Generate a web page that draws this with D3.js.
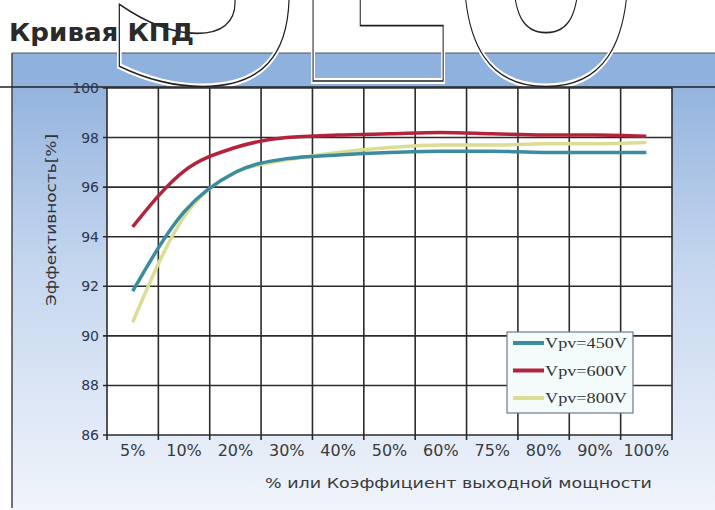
<!DOCTYPE html>
<html>
<head>
<meta charset="utf-8">
<script src="https://cdn.jsdelivr.net/npm/d3@7"></script>
<style>
  body { margin: 0; background: #fff; }
  svg { display: block; font-family: Arial, "Liberation Sans", sans-serif; }
</style>
</head>
<body>
<svg id="chart"></svg>
<script>
const loads = ["5%", "10%", "20%", "30%", "40%", "50%", "60%", "75%", "80%", "90%", "100%"];
const v450 = [91.8, 95.0, 96.6, 97.15, 97.3, 97.4, 97.45, 97.45, 97.4, 97.4, 97.4];
const v600 = [94.4, 96.65, 97.6, 98.0, 98.1, 98.15, 98.2, 98.15, 98.1, 98.1, 98.05];
const v800 = [90.55, 94.8, 96.6, 97.1, 97.4, 97.6, 97.7, 97.7, 97.75, 97.75, 97.8];
const yTicks = [86, 88, 90, 92, 94, 96, 98, 100];
const seriesNames = ["Vpv=450V", "Vpv=600V", "Vpv=800V"];

const width = 715, height = 510;
const margin = { left: 107, right: 43, top: 88, bottom: 75 };

const svg = d3.select("#chart")
    .attr("width", width)
    .attr("height", height)
    .attr("viewBox", [0, 0, width, height]);

// background panel
const defs = svg.append("defs");
const grad = defs.append("linearGradient")
    .attr("id", "bg").attr("x1", 0).attr("y1", 0).attr("x2", 0).attr("y2", 1);
grad.append("stop").attr("offset", "0%").attr("stop-color", "#8aaddb");
grad.append("stop").attr("offset", "45%").attr("stop-color", "#c3d5ee");
grad.append("stop").attr("offset", "100%").attr("stop-color", "#f0f4fb");

svg.append("rect")
    .attr("x", 12).attr("y", 53)
    .attr("width", width - 12).attr("height", height - 53)
    .attr("fill", "url(#bg)");

svg.append("rect")
    .attr("x", 12).attr("y", 53)
    .attr("width", width - 12).attr("height", 34)
    .attr("fill", "#8fb1dd");

svg.append("line")
    .attr("x1", 12).attr("x2", width).attr("y1", 53).attr("y2", 53)
    .attr("stroke", "#555").attr("stroke-width", 1);

svg.append("line")
    .attr("x1", 12).attr("x2", 12).attr("y1", 53).attr("y2", 508)
    .attr("stroke", "#444").attr("stroke-width", 1.5);

// watermark letters (outline only)
const wm = svg.append("g")
    .attr("font-family", "'DejaVu Sans', sans-serif")
    .attr("font-weight", "bold")
    .attr("font-size", 390)
    .attr("fill", "none");
[["S", 96, 215], ["L", 290, 160], ["U", 440, 212]].forEach(([ch, x, w]) => {
    wm.append("text").attr("x", x).attr("y", 81).text(ch)
        .attr("textLength", w).attr("lengthAdjust", "spacingAndGlyphs")
        .attr("stroke", "#fff").attr("stroke-width", 6);
    wm.append("text").attr("x", x).attr("y", 81).text(ch)
        .attr("textLength", w).attr("lengthAdjust", "spacingAndGlyphs")
        .attr("stroke", "#222").attr("stroke-width", 1.6);
});

svg.append("text")
    .attr("x", 9).attr("y", 41)
    .attr("font-family", "'DejaVu Sans', sans-serif")
    .attr("font-size", 24).attr("font-weight", "bold")
    .attr("fill", "#2a2a2a")
    .attr("textLength", 185).attr("lengthAdjust", "spacingAndGlyphs")
    .text("Кривая КПД");

const x = d3.scaleBand(loads, [margin.left, width - margin.right]).padding(0);
const y = d3.scaleLinear([86, 100], [height - margin.bottom, margin.top]);

// plot area
svg.append("rect")
    .attr("x", margin.left).attr("y", margin.top)
    .attr("width", width - margin.right - margin.left)
    .attr("height", height - margin.bottom - margin.top)
    .attr("fill", "#fff");

svg.append("line")
    .attr("x1", 0).attr("x2", width).attr("y1", margin.top - 1).attr("y2", margin.top - 1)
    .attr("stroke", "#222").attr("stroke-width", 1.5);

// grid
const edges = loads.map(d => x(d)).concat([x.range()[1]]);
svg.append("g")
    .selectAll("line")
    .data(edges)
    .join("line")
    .attr("x1", d => d).attr("x2", d => d)
    .attr("y1", margin.top).attr("y2", height - margin.bottom + 5)
    .attr("stroke", "#2b2b2b").attr("stroke-width", 1.6);

svg.append("g")
    .selectAll("line")
    .data(yTicks)
    .join("line")
    .attr("x1", margin.left - 4).attr("x2", width - margin.right)
    .attr("y1", d => y(d)).attr("y2", d => y(d))
    .attr("stroke", "#2b2b2b").attr("stroke-width", 1.6);

// axes labels
svg.append("g")
    .attr("transform", `translate(0, ${height - margin.bottom})`)
    .call(d3.axisBottom(x).tickSize(0).tickPadding(10))
    .call(g => g.select(".domain").remove())
    .call(g => g.selectAll("text")
        .attr("font-family", "'DejaVu Sans', sans-serif")
        .attr("font-size", 16).attr("fill", "#3a3a3a"));

svg.append("g")
    .attr("transform", `translate(${margin.left}, 0)`)
    .call(d3.axisLeft(y).tickValues(yTicks).tickSize(0).tickPadding(8))
    .call(g => g.select(".domain").remove())
    .call(g => g.selectAll("text")
        .attr("font-family", "'DejaVu Sans', sans-serif")
        .attr("font-size", 14).attr("fill", "#2c3550"));

svg.append("text")
    .attr("x", 265).attr("y", 488)
    .attr("font-family", "'DejaVu Sans', sans-serif")
    .attr("font-size", 14).attr("fill", "#3a3a3a")
    .attr("textLength", 387).attr("lengthAdjust", "spacingAndGlyphs")
    .text("% или Коэффициент выходной мощности");

svg.append("text")
    .attr("transform", "translate(56, 220) rotate(-90)")
    .attr("text-anchor", "middle")
    .attr("font-family", "'DejaVu Sans', sans-serif")
    .attr("font-size", 14).attr("fill", "#333")
    .attr("textLength", 172).attr("lengthAdjust", "spacingAndGlyphs")
    .text("Эффективность[%]");

// lines
const series = [
    { name: seriesNames[2], values: v800, color: "#dcdc94" },
    { name: seriesNames[0], values: v450, color: "#3a8c9e" },
    { name: seriesNames[1], values: v600, color: "#b3243c" }
];

const lineGen = d3.line()
    .x((d, i) => x(loads[i]) + x.bandwidth() / 2)
    .y(d => y(d))
    .curve(d3.curveMonotoneX);

svg.append("g")
    .selectAll("path")
    .data(series)
    .join("path")
    .attr("fill", "none")
    .attr("stroke", d => d.color)
    .attr("stroke-width", 3.5)
    .attr("d", d => lineGen(d.values));

// legend
const legendItems = [series[1], series[2], series[0]];
const legend = svg.append("g").attr("transform", "translate(507, 332)");
legend.append("rect")
    .attr("width", 126).attr("height", 81)
    .attr("fill", "#f3fbfb").attr("stroke", "#6c7c8c").attr("stroke-width", 1.2);
legend.selectAll("line")
    .data(legendItems)
    .join("line")
    .attr("x1", 6).attr("x2", 37)
    .attr("y1", (d, i) => 11 + i * 27.5).attr("y2", (d, i) => 11 + i * 27.5)
    .attr("stroke", d => d.color).attr("stroke-width", 4);
legend.selectAll("text")
    .data(legendItems)
    .join("text")
    .attr("x", 38).attr("y", (d, i) => 16 + i * 27.5)
    .attr("font-family", "'Liberation Serif', 'DejaVu Serif', serif")
    .attr("font-size", 14).attr("fill", "#333")
    .attr("textLength", 82).attr("lengthAdjust", "spacingAndGlyphs")
    .text(d => d.name);
</script>
</body>
</html>
